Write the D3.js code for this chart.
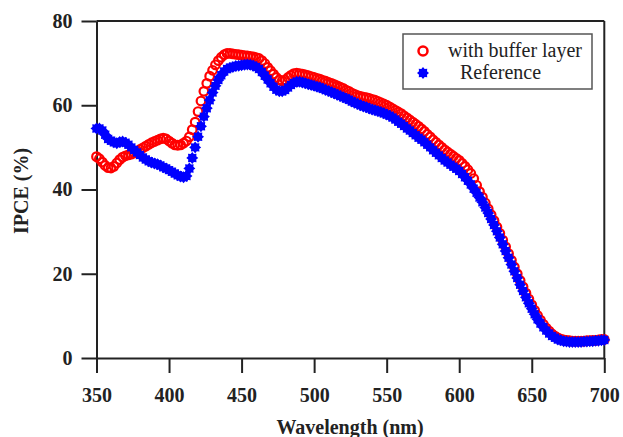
<!DOCTYPE html>
<html>
<head>
<style>
  body { margin: 0; background: #fff; }
  svg text { font-family: "Liberation Serif", "Times New Roman", serif; }
</style>
</head>
<body>
<div id="chart"></div>
<script src="https://cdnjs.cloudflare.com/ajax/libs/d3/7.8.5/d3.min.js"></script>
<script>
// wavelength grid (nm)
var wavelengths = [
  350,352,354,356,358,360,362,364,366,368,370,372,374,376,378,380,382,384,386,388,
  390,392,394,396,398,400,402,404,406,408,410,412,414,416,418,420,422,424,426,428,
  430,432,434,436,438,440,442,444,446,448,450,452,454,456,458,460,462,464,466,468,
  470,472,474,476,478,480,482,484,486,488,490,492,494,496,498,500,502,504,506,508,
  510,512,514,516,518,520,522,524,526,528,530,532,534,536,538,540,542,544,546,548,
  550,552,554,556,558,560,562,564,566,568,570,572,574,576,578,580,582,584,586,588,
  590,592,594,596,598,600,602,604,606,608,610,612,614,616,618,620,622,624,626,628,
  630,632,634,636,638,640,642,644,646,648,650,652,654,656,658,660,662,664,666,668,
  670,672,674,676,678,680,682,684,686,688,690,692,694,696,698,700
];

// IPCE (%) with buffer layer
var bufferIPCE = [
  47.8,47.3,46.5,45.7,45.2,45.1,45.5,46.3,47.1,47.7,48.0,48.2,48.4,48.7,49.1,49.5,49.9,50.3,50.7,51.1,
  51.4,51.7,52.0,52.2,52.0,51.5,51.0,50.6,50.5,50.6,51.0,51.5,52.5,54.2,56.0,58.5,61.0,63.3,65.2,66.9,
  68.3,69.6,70.6,71.4,72.0,72.3,72.3,72.2,72.1,72.0,71.9,71.8,71.7,71.6,71.5,71.3,71.1,70.6,69.9,69.0,
  68.2,67.4,66.6,66.0,65.8,66.0,66.6,67.1,67.5,67.6,67.5,67.4,67.2,67.0,66.8,66.6,66.4,66.2,65.9,65.7,
  65.4,65.2,64.9,64.6,64.3,64.0,63.6,63.3,62.9,62.6,62.3,62.1,61.9,61.8,61.6,61.4,61.2,60.9,60.6,60.3,
  60.0,59.6,59.2,58.8,58.4,58.0,57.5,57.0,56.5,56.0,55.5,55.0,54.4,53.8,53.1,52.5,51.8,51.2,50.6,50.0,
  49.4,48.9,48.4,47.9,47.4,46.9,46.2,45.5,44.7,43.8,42.6,41.0,39.5,38.2,36.8,35.4,34.0,32.6,31.1,29.6,
  28.0,26.4,24.8,23.2,21.6,20.0,18.4,16.9,15.4,14.0,12.6,11.3,10.1,9.0,8.0,7.1,6.4,5.7,5.2,4.8,
  4.5,4.3,4.2,4.1,4.0,4.0,4.0,4.0,4.0,4.1,4.1,4.2,4.2,4.3,4.4,4.4
];

// IPCE (%) reference cell
var referenceIPCE = [
  54.5,54.5,54.0,53.0,52.0,51.6,51.2,51.0,51.3,51.4,51.1,50.6,50.0,49.4,48.8,48.2,47.6,47.1,46.7,46.4,
  46.2,46.0,45.7,45.3,45.0,44.6,44.2,43.8,43.4,43.1,42.9,43.2,45.0,47.5,50.0,52.5,55.0,57.3,59.3,61.2,
  63.0,64.6,66.0,67.1,68.0,68.6,68.9,69.1,69.3,69.4,69.5,69.6,69.7,69.6,69.4,69.1,68.6,67.9,67.0,66.1,
  65.2,64.4,63.7,63.3,63.3,63.6,64.2,64.8,65.3,65.6,65.6,65.4,65.2,65.0,64.8,64.6,64.4,64.2,63.9,63.6,
  63.4,63.1,62.8,62.5,62.2,61.9,61.6,61.3,60.9,60.6,60.3,60.0,59.7,59.5,59.2,59.0,58.8,58.6,58.4,58.1,
  57.8,57.5,57.1,56.6,56.1,55.6,55.1,54.5,54.0,53.4,52.9,52.3,51.8,51.2,50.6,50.0,49.3,48.7,48.1,47.5,
  46.9,46.4,45.9,45.4,44.9,44.4,43.7,42.9,42.1,41.2,40.2,39.2,38.1,37.0,35.7,34.4,33.0,31.6,30.1,28.6,
  27.0,25.4,23.8,22.2,20.6,19.0,17.4,15.9,14.4,13.0,11.7,10.4,9.2,8.2,7.3,6.5,5.8,5.2,4.8,4.4,
  4.2,4.0,3.9,3.8,3.8,3.8,3.8,3.8,3.9,3.9,4.0,4.0,4.1,4.1,4.2,4.3
];

var xTicks = [350, 400, 450, 500, 550, 600, 650, 700];
var yTicks = [0, 20, 40, 60, 80];
var legendLabels = ["with buffer layer", "Reference"];

var width = 623, height = 437;

var svg = d3.select("#chart")
  .append("svg")
  .attr("width", width)
  .attr("height", height);

var x = d3.scaleLinear().domain([350, 700]).range([96.5, 604.3]);
var y = d3.scaleLinear().domain([0, 80]).range([358, 21]);

// 8 point filled star for the reference markers
var star8 = {
  draw: function(ctx, size) {
    var R = Math.sqrt(size) / 2, r = R * 0.72;
    for (var i = 0; i < 16; i++) {
      var a = i * Math.PI / 8 - Math.PI / 2;
      var rad = i % 2 ? r : R;
      if (i === 0) ctx.moveTo(rad * Math.cos(a), rad * Math.sin(a));
      else ctx.lineTo(rad * Math.cos(a), rad * Math.sin(a));
    }
    ctx.closePath();
  }
};
var starPath = d3.symbol().type(star8).size(144)();

// frame (top and right)
svg.append("line")
  .attr("x1", x(350)).attr("x2", x(700))
  .attr("y1", y(80)).attr("y2", y(80))
  .attr("stroke", "#222").attr("stroke-width", 2);
svg.append("line")
  .attr("x1", x(700)).attr("x2", x(700))
  .attr("y1", y(80)).attr("y2", y(0))
  .attr("stroke", "#222").attr("stroke-width", 2);

// axes
var xAxis = svg.append("g")
  .attr("transform", "translate(0," + y(0) + ")")
  .call(d3.axisBottom(x).tickValues(xTicks).tickSize(15).tickSizeOuter(0).tickPadding(15));
var yAxis = svg.append("g")
  .attr("transform", "translate(" + x(350) + ",0)")
  .call(d3.axisLeft(y).tickValues(yTicks).tickSize(15).tickSizeOuter(0).tickPadding(9));

[xAxis, yAxis].forEach(function(g) {
  g.selectAll("path, line").attr("stroke", "#222").attr("stroke-width", 2);
  g.selectAll("text")
    .attr("fill", "#222")
    .style("font-family", "'Liberation Serif', serif")
    .style("font-size", "20px")
    .style("font-weight", "bold");
});

// axis titles
svg.append("text")
  .attr("x", 350)
  .attr("y", 434)
  .attr("text-anchor", "middle")
  .style("font-size", "20px")
  .style("font-weight", "bold")
  .attr("fill", "#222")
  .text("Wavelength (nm)");

svg.append("text")
  .attr("transform", "translate(28,191) rotate(-90)")
  .attr("text-anchor", "middle")
  .style("font-size", "20px")
  .style("font-weight", "bold")
  .attr("fill", "#222")
  .text("IPCE (%)");

// series: buffer layer (open red circles)
svg.append("g")
  .selectAll("circle")
  .data(wavelengths)
  .enter()
  .append("circle")
    .attr("cx", function(d) { return x(d); })
    .attr("cy", function(d, i) { return y(bufferIPCE[i]); })
    .attr("r", 4.3)
    .attr("fill", "none")
    .attr("stroke", "#ff0000")
    .attr("stroke-width", 2.2);

// series: reference (blue stars)
svg.append("g")
  .selectAll("path")
  .data(wavelengths)
  .enter()
  .append("path")
    .attr("d", starPath)
    .attr("transform", function(d, i) {
      return "translate(" + x(d) + "," + y(referenceIPCE[i]) + ")";
    })
    .attr("fill", "#0000ff");

// legend
var legend = svg.append("g");
legend.append("rect")
  .attr("x", 403).attr("y", 34)
  .attr("width", 189).attr("height", 55)
  .attr("fill", "#fff")
  .attr("stroke", "#555")
  .attr("stroke-width", 1.5);

legend.append("circle")
  .attr("cx", 423).attr("cy", 51)
  .attr("r", 4.5)
  .attr("fill", "none")
  .attr("stroke", "#ff0000")
  .attr("stroke-width", 2.5);
legend.append("path")
  .attr("d", starPath)
  .attr("transform", "translate(423,73)")
  .attr("fill", "#0000ff");

legend.append("text")
  .attr("x", 448).attr("y", 57)
  .style("font-size", "20px")
  .attr("fill", "#222")
  .text(legendLabels[0]);
legend.append("text")
  .attr("x", 460).attr("y", 79)
  .style("font-size", "20px")
  .attr("fill", "#222")
  .text(legendLabels[1]);
</script>
</body>
</html>
